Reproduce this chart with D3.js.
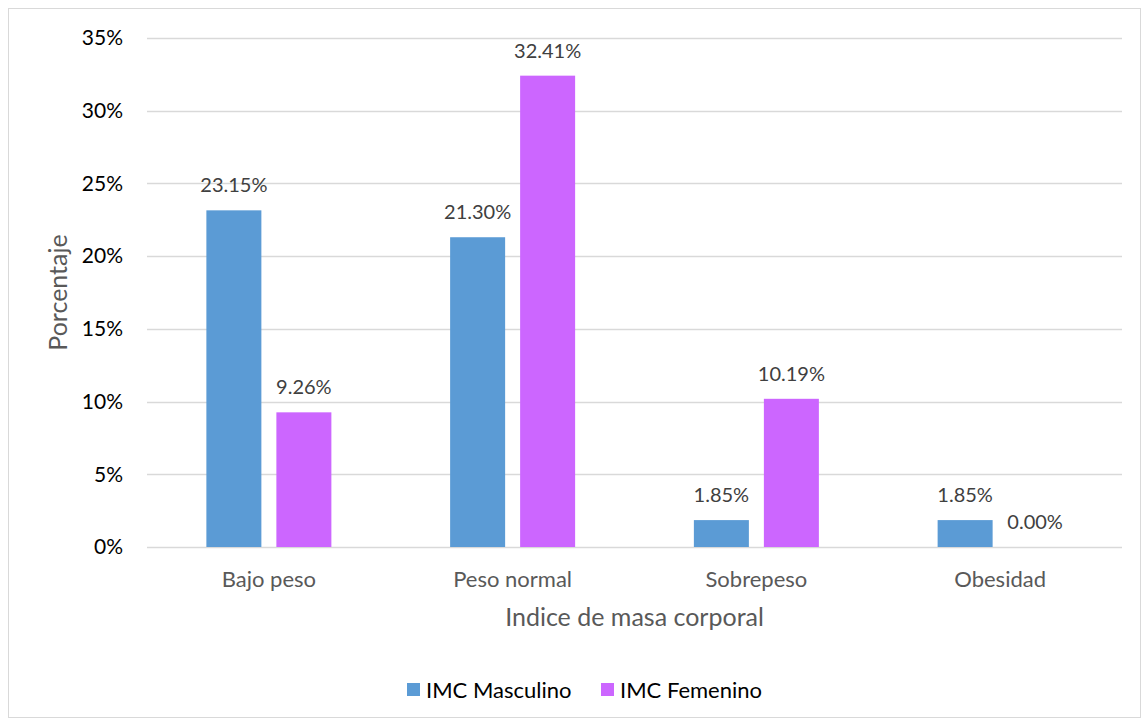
<!DOCTYPE html>
<html>
<head>
<meta charset="utf-8">
<script src="https://cdn.jsdelivr.net/npm/d3@7"></script>
<style>
  body { margin: 0; background: #fff; }
  svg text { font-family: Lato, "Open Sans", sans-serif; }
</style>
</head>
<body>
<div id="chart"></div>
<script>
// IMC por sexo
const categories = ["Bajo peso", "Peso normal", "Sobrepeso", "Obesidad"];
const seriesNames = ["IMC Masculino", "IMC Femenino"];
const masculino = [23.15, 21.30, 1.85, 1.85];
const femenino = [9.26, 32.41, 10.19, 0.00];
const yTicks = [0, 5, 10, 15, 20, 25, 30, 35];
const colors = ["#5B9BD5", "#CC66FF"];

const width = 1144, height = 722;
const margin = {left: 147, right: 22, top: 38, bottom: 175};

const svg = d3.select("#chart")
  .append("svg")
  .attr("width", width)
  .attr("height", height);

// outer border
svg.append("rect")
  .attr("x", 8.5).attr("y", 8.5)
  .attr("width", width - 12).attr("height", height - 13)
  .attr("fill", "none")
  .attr("stroke", "#d9d9d9");

const x = d3.scaleBand()
  .domain(categories)
  .range([margin.left, width - margin.right]);

const xs = d3.scaleBand()
  .domain(seriesNames)
  .range([0, 125])
  .paddingInner(0.2143);

const y = d3.scaleLinear()
  .domain([0, 35])
  .range([height - margin.bottom, margin.top]);

// gridlines
svg.append("g")
  .selectAll("line")
  .data(yTicks)
  .enter()
  .append("line")
  .attr("x1", margin.left)
  .attr("x2", width - margin.right)
  .attr("y1", d => Math.round(y(d)) + 0.5)
  .attr("y2", d => Math.round(y(d)) + 0.5)
  .attr("stroke", "#d9d9d9")
  .attr("stroke-width", 1.3);

// y tick labels
svg.append("g")
  .selectAll("text")
  .data(yTicks)
  .enter()
  .append("text")
  .attr("x", 123)
  .attr("y", d => y(d))
  .attr("dy", "0.35em")
  .attr("text-anchor", "end")
  .attr("font-size", 21)
  .attr("fill", "#000")
  .text(d => d + "%");

const rows = categories.map((c, i) => ({cat: c, vals: [masculino[i], femenino[i]]}));

const groups = svg.selectAll(".grp")
  .data(rows)
  .enter()
  .append("g")
  .attr("class", "grp")
  .attr("transform", d => `translate(${x(d.cat) + x.bandwidth() / 2 - 62.5},0)`);

groups.selectAll("rect")
  .data(d => d.vals.map((v, j) => ({name: seriesNames[j], v: v, j: j})))
  .enter()
  .append("rect")
  .attr("x", d => xs(d.name))
  .attr("width", xs.bandwidth())
  .attr("y", d => y(d.v))
  .attr("height", d => y(0) - y(d.v))
  .attr("fill", d => colors[d.j]);

groups.selectAll("text")
  .data(d => d.vals.map((v, j) => ({name: seriesNames[j], v: v, j: j})))
  .enter()
  .append("text")
  .attr("x", d => xs(d.name) + xs.bandwidth() / 2)
  .attr("y", d => y(d.v) - 18)
  .attr("text-anchor", "middle")
  .attr("font-size", 20)
  .attr("fill", "#404040")
  .text(d => d.v.toFixed(2) + "%");

// category labels
svg.append("g")
  .selectAll("text")
  .data(categories)
  .enter()
  .append("text")
  .attr("x", d => x(d) + x.bandwidth() / 2)
  .attr("y", 587)
  .attr("text-anchor", "middle")
  .attr("font-size", 22)
  .attr("fill", "#595959")
  .text(d => d);

// axis titles
svg.append("text")
  .attr("x", (margin.left + width - margin.right) / 2)
  .attr("y", 626)
  .attr("text-anchor", "middle")
  .attr("font-size", 25)
  .attr("fill", "#595959")
  .text("Indice de masa corporal");

svg.append("text")
  .attr("transform", `translate(67,${(y(0) + y(35)) / 2}) rotate(-90)`)
  .attr("text-anchor", "middle")
  .attr("font-size", 25)
  .attr("fill", "#595959")
  .text("Porcentaje");

// legend
const legendX = [407, 601];
const legend = svg.selectAll(".legend")
  .data(seriesNames)
  .enter()
  .append("g")
  .attr("class", "legend")
  .attr("transform", (d, i) => `translate(${legendX[i]},683)`);

legend.append("rect")
  .attr("width", 13)
  .attr("height", 13)
  .attr("fill", (d, i) => colors[i]);

legend.append("text")
  .attr("x", 19)
  .attr("y", 7)
  .attr("dy", "0.35em")
  .attr("font-size", 22)
  .attr("fill", "#000")
  .text(d => d);
</script>
</body>
</html>
